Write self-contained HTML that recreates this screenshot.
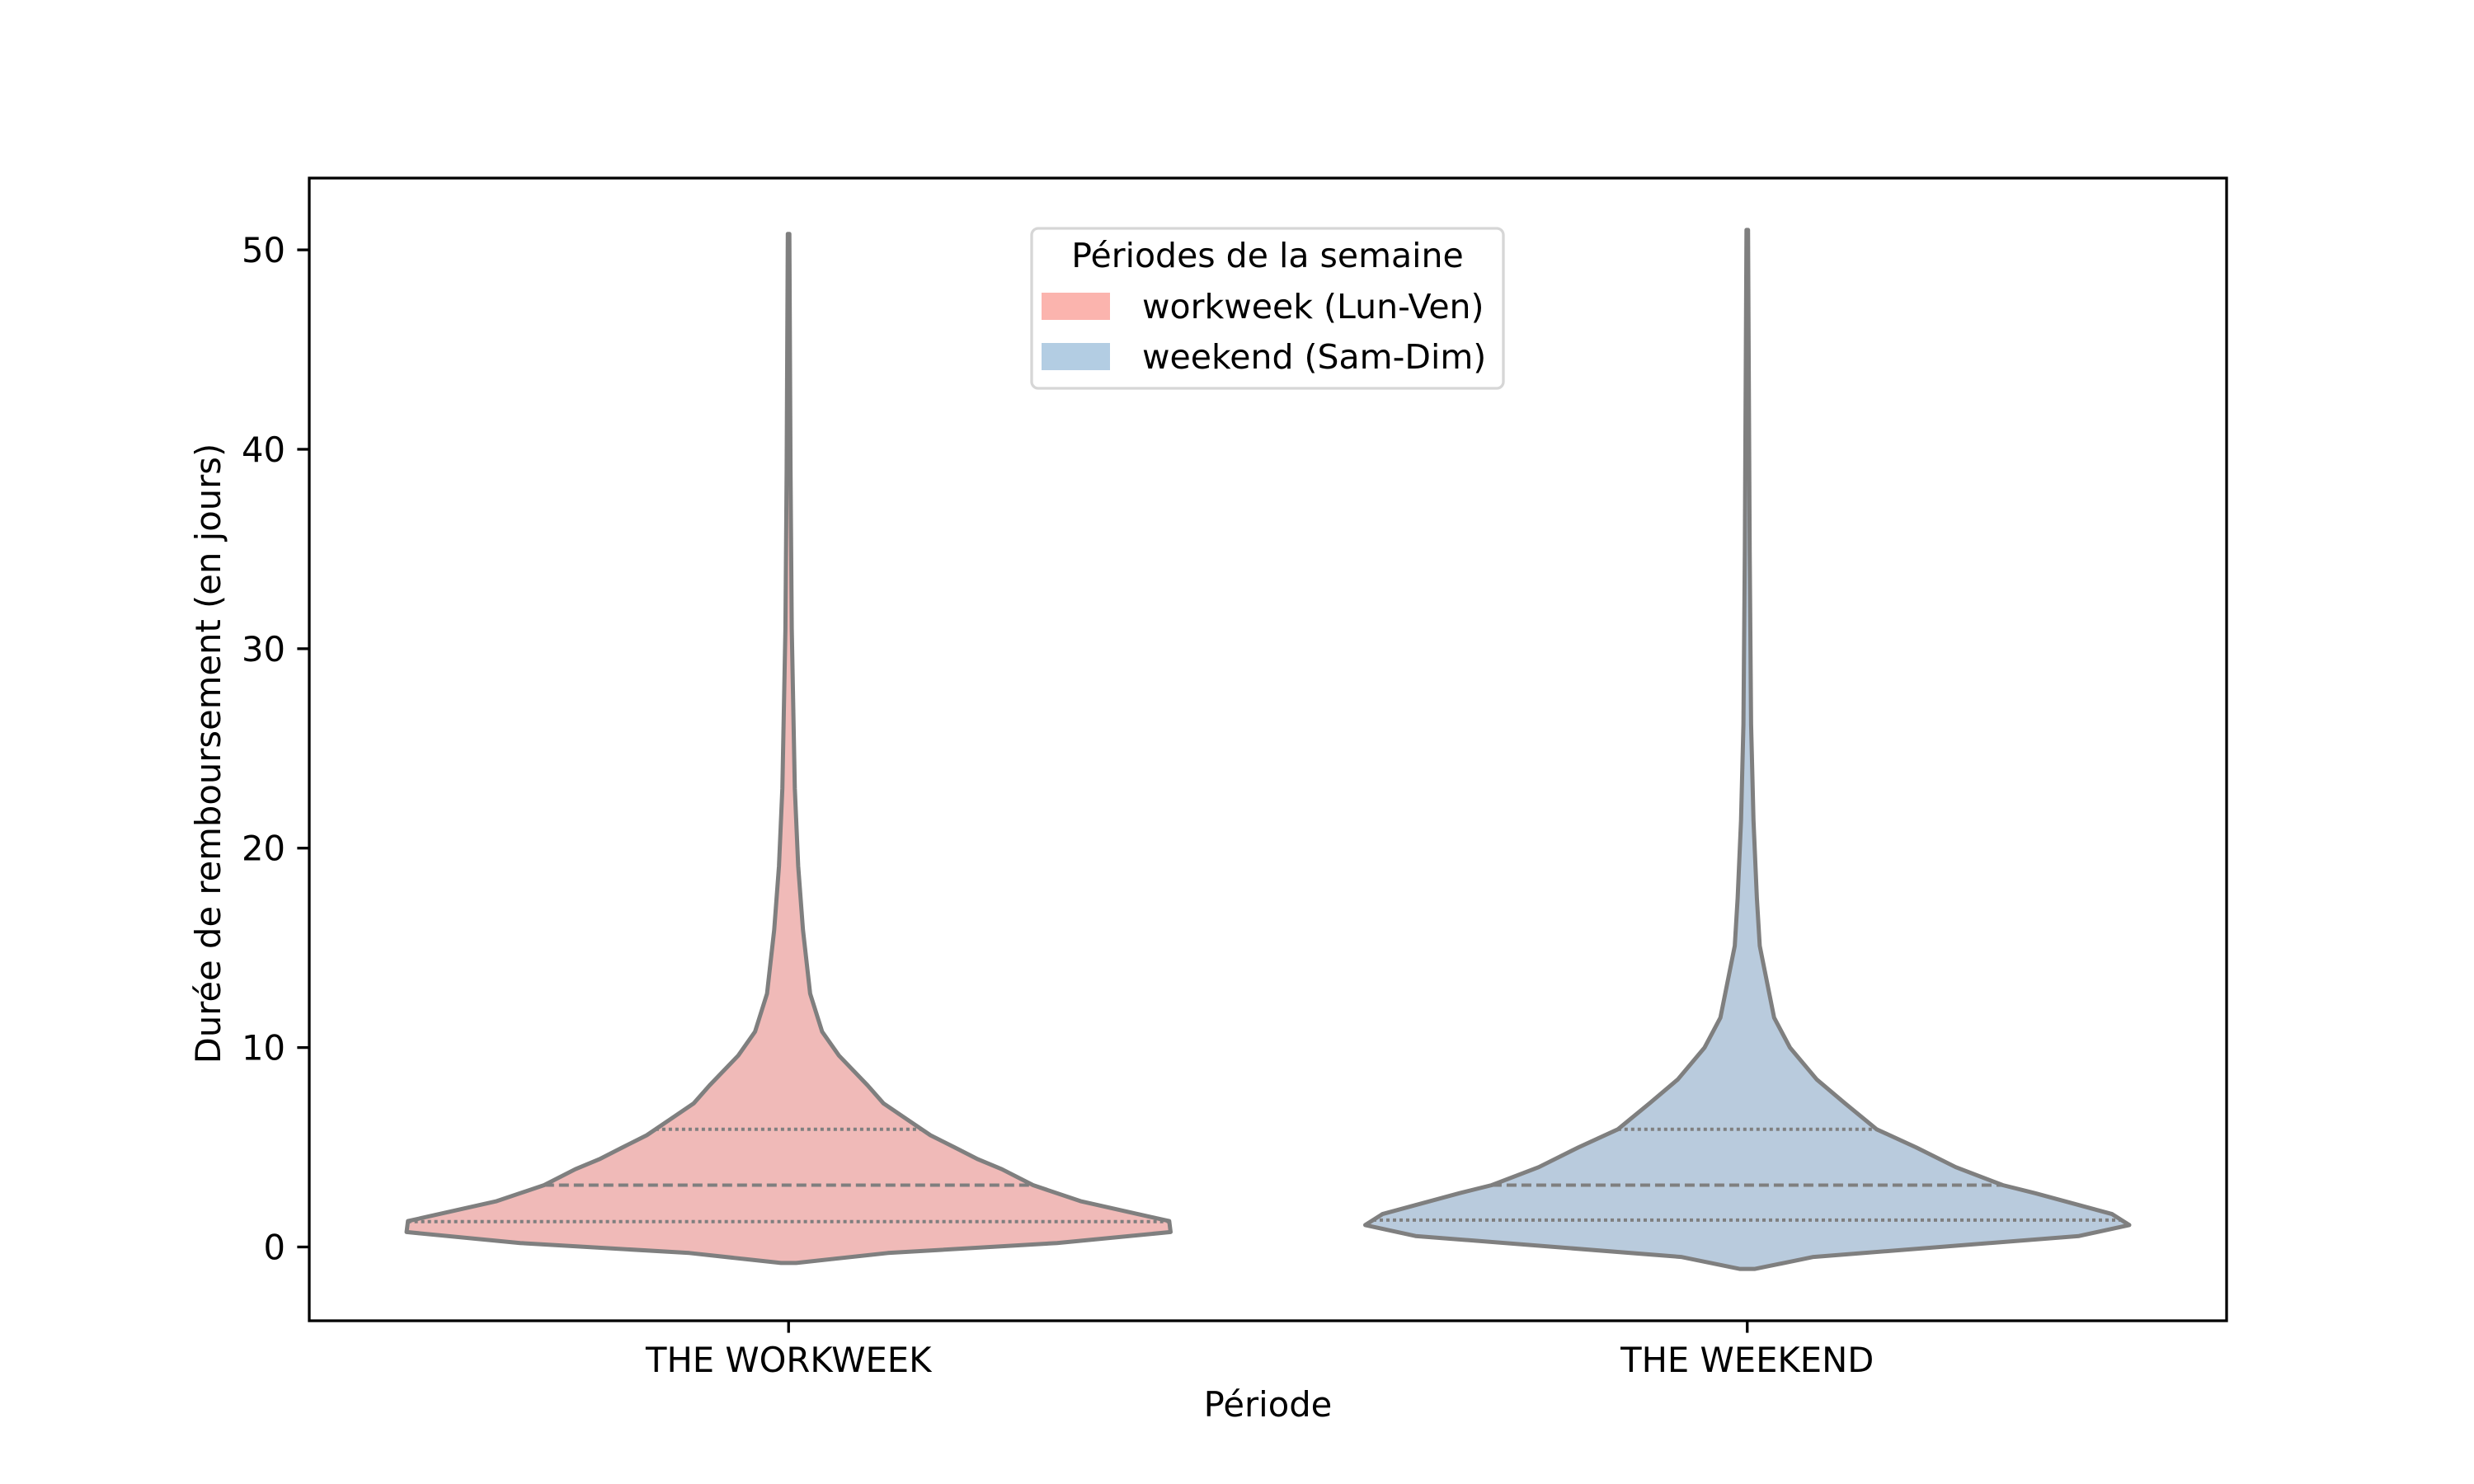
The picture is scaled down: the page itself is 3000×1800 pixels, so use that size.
<!DOCTYPE html>
<html><head><meta charset="utf-8"><style>
html,body{margin:0;padding:0;background:#fff;}
svg{display:block;font-family:"DejaVu Sans","Liberation Sans",sans-serif;}
</style></head><body>
<svg id="chart" width="3000" height="1800" viewBox="0 0 3000 1800" xmlns="http://www.w3.org/2000/svg">
<rect width="3000" height="1800" fill="#fff"/>
<g id="violins"></g>
<g id="axes"></g>
<g id="legend">
  <rect x="1251" y="277" width="572" height="194" rx="8" fill="#fff" fill-opacity="0.8" stroke="#d6d6d6" stroke-width="3.3"/>
  <text x="1537" y="324" font-size="41" text-anchor="middle" fill="#000">Périodes de la semaine</text>
  <rect x="1263" y="355" width="83" height="33" fill="#fbb4ae"/>
  <text x="1385" y="386" font-size="41" fill="#000">workweek (Lun-Ven)</text>
  <rect x="1263" y="416" width="83" height="33" fill="#b3cde3"/>
  <text x="1385" y="447" font-size="41" fill="#000">weekend (Sam-Dim)</text>
</g>
</svg>
<script>
const categories = ["THE WORKWEEK", "THE WEEKEND"];
const yTicks = [0, 10, 20, 30, 40, 50];
const workweekY = [-0.8, -0.3, 0.2, 0.75, 1.3, 2.3, 3.1, 3.9, 4.4, 5.0, 5.6, 6.4, 7.2, 8.1, 9.6, 10.8, 12.7, 15.9, 19.1, 23, 31, 39, 50.8];
const workweekWidth = [0.016, 0.207, 0.56, 0.797, 0.794, 0.609, 0.51, 0.445, 0.395, 0.346, 0.296, 0.247, 0.198, 0.165, 0.105, 0.07, 0.045, 0.03, 0.02, 0.013, 0.0066, 0.004, 0.0016];
const weekendY = [-1.1, -0.5, 0.55, 1.1, 1.65, 2.7, 3.1, 4.0, 5.0, 5.9, 7.2, 8.4, 10, 11.5, 13.9, 15.1, 17.5, 21.4, 26.2, 34.9, 51];
const weekendWidth = [0.016, 0.138, 0.692, 0.797, 0.761, 0.6, 0.533, 0.435, 0.352, 0.27, 0.204, 0.145, 0.089, 0.056, 0.036, 0.026, 0.02, 0.013, 0.008, 0.005, 0.0016];
const workweekQuartiles = [1.27, 3.1, 5.9];
const weekendQuartiles = [1.35, 3.1, 5.9];

const NS = "http://www.w3.org/2000/svg";
const AX = {l: 375, r: 2700, t: 216, b: 1602};
const yMin = -3.7, yMax = 53.6, xMin = -0.5, xMax = 1.5;
function yS(v){ return AX.b - (v - yMin) / (yMax - yMin) * (AX.b - AX.t); }
function xS(v){ return AX.l + (v - xMin) / (xMax - xMin) * (AX.r - AX.l); }
function mk(tag, attrs, parent){ const e = document.createElementNS(NS, tag); for (const k in attrs) e.setAttribute(k, attrs[k]); parent.appendChild(e); return e; }
function interp(ys, ds, v){
  for (let i = 0; i < ys.length - 1; i++) if (v >= ys[i] && v <= ys[i+1]) { const t = (v - ys[i]) / (ys[i+1] - ys[i]); return ds[i] + t * (ds[i+1] - ds[i]); }
  return 0;
}
const vg = document.getElementById('violins');
const series = [
  {ys: workweekY, ds: workweekWidth, q: workweekQuartiles, fill: "#f0bab8", name: "workweek"},
  {ys: weekendY, ds: weekendWidth, q: weekendQuartiles, fill: "#b9cbdd", name: "weekend"}
];
series.forEach((s, i) => {
  let pts = [];
  for (let k = 0; k < s.ys.length; k++) pts.push([xS(i - s.ds[k] / 2), yS(s.ys[k])]);
  for (let k = s.ys.length - 1; k >= 0; k--) pts.push([xS(i + s.ds[k] / 2), yS(s.ys[k])]);
  const p = mk('polygon', {points: pts.map(p => p[0].toFixed(1) + ',' + p[1].toFixed(1)).join(' '), fill: s.fill, stroke: "#7f7f7f", 'stroke-width': 5, 'stroke-linejoin': 'round'}, vg);
  
  
  s.q.forEach((qv, j) => {
    const w = interp(s.ys, s.ds, qv) / 2;
    const l = mk('line', {x1: xS(i - w), x2: xS(i + w), y1: yS(qv), y2: yS(qv), stroke: "#7f7f7f", 'stroke-width': 4, 'stroke-dasharray': j === 1 ? '12,6' : '4,4'}, vg);
    
    
  });
});
const ag = document.getElementById('axes');
const frame = mk('rect', {x: AX.l, y: AX.t, width: AX.r - AX.l, height: AX.b - AX.t, fill: 'none', stroke: '#000', 'stroke-width': 3.3}, ag);


yTicks.forEach(t => {
  const y = yS(t);
  const tk = mk('line', {x1: AX.l - 14.6, x2: AX.l, y1: y, y2: y, stroke: '#000', 'stroke-width': 3.3}, ag);
  
  
  const tx = mk('text', {x: AX.l - 29, y: y + 15, 'font-size': 41.7, 'text-anchor': 'end', fill: '#000'}, ag);
  tx.textContent = t;
  
  
});
categories.forEach((c, i) => {
  const x = xS(i);
  const tk = mk('line', {x1: x, x2: x, y1: AX.b, y2: AX.b + 14.6, stroke: '#000', 'stroke-width': 3.3}, ag);
  
  
  const tx = mk('text', {x: x, y: AX.b + 62, 'font-size': 41.7, 'text-anchor': 'middle', fill: '#000'}, ag);
  tx.textContent = c;
  
  
});
const xl = mk('text', {x: (AX.l + AX.r) / 2, y: 1718, 'font-size': 41.7, 'text-anchor': 'middle', fill: '#000'}, ag);
xl.textContent = 'Période';


const yl = mk('text', {x: 0, y: 0, 'font-size': 41.7, 'text-anchor': 'middle', fill: '#000', transform: 'translate(267,914) rotate(-90)'}, ag);
yl.textContent = 'Durée de remboursement (en jours)';


</script>
</body></html>
